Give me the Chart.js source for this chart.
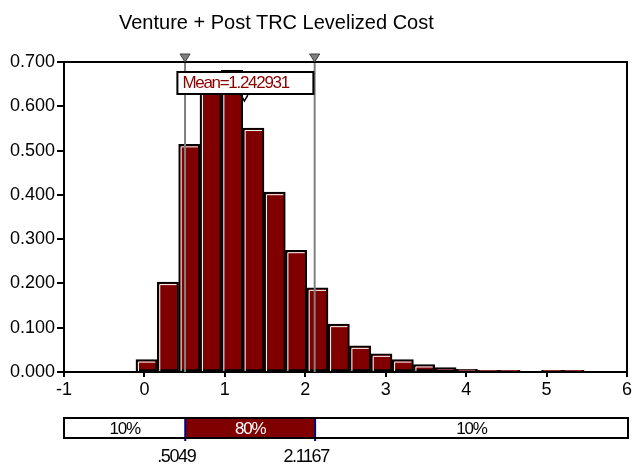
<!DOCTYPE html>
<html>
<head>
<meta charset="utf-8">
<script src="https://cdn.jsdelivr.net/npm/chart.js@4.4.0/dist/chart.umd.min.js"></script>
<style>
    html, body { margin: 0; padding: 0; background: #fff; }
    #wrap { position: relative; width: 634px; height: 466px; overflow: hidden; }
    #hist { position: absolute; left: 0; top: 0; }
    #band { position: absolute; left: 0; top: 402px; }
    #title {
        position: absolute; left: 119px; top: 12px;
        font: 20px "Liberation Sans", Arial, sans-serif; line-height: 20px;
        color: #000; white-space: nowrap;
    }
</style>
</head>
<body>
<div id="wrap">
    <canvas id="hist" width="634" height="402"></canvas>
    <canvas id="band" width="634" height="64"></canvas>
    <div id="title">Venture + Post TRC Levelized Cost</div>
</div>
<script>
// histogram bins (centre of each bin) and their relative frequency
const binCenters = [0.027, 0.292, 0.558, 0.823, 1.089, 1.354, 1.619, 1.885, 2.150, 2.416, 2.681,
                    2.946, 3.212, 3.477, 3.743, 4.008, 4.274, 4.539, 4.804, 5.070, 5.335];
const density = [0.028, 0.203, 0.514, 0.660, 0.681, 0.551, 0.406, 0.275, 0.190, 0.108, 0.059,
                 0.041, 0.028, 0.017, 0.010, 0.006, 0.004, 0.004, null, 0.004, 0.004];

// 5% / 95% delimiters and the mean
const percentiles = [0.5049, 2.1167];
const meanValue = 1.242931;

// axis range
const xRange = [-1, 6];
const yRange = [0, 0.7];

// probability band under the axis
const bandEdges = [-1, 0.5049, 2.1167, 6];
const bandLabels = ['10%', '80%', '10%'];

const MAROON = '#800000';
const FONT = '"Liberation Sans", Arial, sans-serif';

function fmtPct(v) {
    return v.toFixed(4).replace(/^0\./, '.');
}

const histDecor = {
    id: 'histDecor',
    afterDatasetsDraw(chart) {
        // white bevel line inside each bar
        const ctx = chart.ctx;
        const meta = chart.getDatasetMeta(0);
        ctx.save();
        ctx.strokeStyle = '#fff';
        ctx.lineWidth = 1;
        meta.data.forEach(bar => {
            const p = bar.getProps(['x', 'y', 'base', 'width']);
            if (p.y == null || isNaN(p.y) || p.base - p.y < 6) return;
            const left = p.x - p.width / 2 + 2;
            const right = p.x + p.width / 2 - 2;
            ctx.beginPath();
            ctx.moveTo(left + 0.5, p.base);
            ctx.lineTo(left + 0.5, p.y + 2.5);
            ctx.lineTo(right, p.y + 2.5);
            ctx.stroke();
        });
        ctx.restore();
    },
    afterDraw(chart) {
        const ctx = chart.ctx;
        const area = chart.chartArea;
        const xs = chart.scales.x;
        ctx.save();

        // percentile lines
        ctx.strokeStyle = '#808080';
        ctx.lineWidth = 2;
        percentiles.forEach(v => {
            const px = xs.getPixelForValue(v);
            ctx.beginPath();
            ctx.moveTo(px, area.top);
            ctx.lineTo(px, area.bottom);
            ctx.stroke();
        });

        // top and right frame
        ctx.strokeStyle = '#000';
        ctx.lineWidth = 2;
        ctx.beginPath();
        ctx.moveTo(area.left, area.top);
        ctx.lineTo(area.right, area.top);
        ctx.lineTo(area.right, area.bottom);
        ctx.stroke();

        // delimiter triangles
        ctx.fillStyle = '#808080';
        ctx.strokeStyle = '#404040';
        ctx.lineWidth = 1;
        percentiles.forEach(v => {
            const px = xs.getPixelForValue(v);
            ctx.beginPath();
            ctx.moveTo(px - 5, area.top - 8);
            ctx.lineTo(px + 5, area.top - 8);
            ctx.lineTo(px, area.top);
            ctx.closePath();
            ctx.fill();
            ctx.stroke();
        });

        // mean label box
        const mx = xs.getPixelForValue(meanValue);
        const boxTop = area.top + 10;
        ctx.fillStyle = '#fff';
        ctx.fillRect(mx - 67, boxTop, 136, 22);
        ctx.strokeStyle = '#000';
        ctx.lineWidth = 2;
        ctx.strokeRect(mx - 67, boxTop, 136, 22);
        ctx.fillStyle = '#8b0000';
        ctx.font = '17px ' + FONT;
        ctx.letterSpacing = '-1.3px';
        ctx.textAlign = 'left';
        ctx.textBaseline = 'middle';
        ctx.fillText('Mean=' + meanValue, mx - 62, boxTop + 11.5);

        // mean marker
        ctx.strokeStyle = '#000';
        ctx.lineWidth = 1.5;
        ctx.beginPath();
        ctx.moveTo(mx - 3.5, boxTop + 23);
        ctx.lineTo(mx, boxTop + 29);
        ctx.lineTo(mx + 3.5, boxTop + 23);
        ctx.stroke();
        ctx.restore();
    }
};

new Chart(document.getElementById('hist'), {
    type: 'bar',
    data: {
        datasets: [{
            data: binCenters.map((x, i) => ({ x: x, y: density[i] })),
            backgroundColor: MAROON,
            borderColor: '#000',
            borderWidth: 2,
            borderSkipped: false,
            barPercentage: 1,
            categoryPercentage: 1
        }]
    },
    options: {
        responsive: false,
        animation: false,
        layout: { padding: { top: 62, right: 6, left: 0, bottom: 0 } },
        plugins: {
            legend: { display: false },
            tooltip: { enabled: false },
            title: { display: false }
        },
        scales: {
            x: {
                type: 'linear',
                min: xRange[0],
                max: xRange[1],
                offset: false,
                ticks: {
                    stepSize: 1,
                    color: '#000',
                    font: { family: FONT, size: 18 },
                    padding: 2,
                    maxRotation: 0,
                    autoSkip: false
                },
                grid: { display: true, drawOnChartArea: false, drawTicks: true, tickLength: 5, color: '#000', lineWidth: 2, offset: false },
                border: { display: true, color: '#000', width: 2 },
                afterFit: s => { s.height = 30; }
            },
            y: {
                min: yRange[0],
                max: yRange[1],
                ticks: {
                    stepSize: 0.1,
                    color: '#000',
                    font: { family: FONT, size: 18 },
                    padding: 2,
                    callback: v => v.toFixed(3)
                },
                grid: { display: true, drawOnChartArea: false, drawTicks: true, tickLength: 7, color: '#000', lineWidth: 2 },
                border: { display: true, color: '#000', width: 2 },
                afterFit: s => { s.width = 64; }
            }
        }
    },
    plugins: [histDecor]
});

const bandDecor = {
    id: 'bandDecor',
    afterDatasetsDraw(chart) {
        const ctx = chart.ctx;
        const area = chart.chartArea;
        const xs = chart.scales.x;
        ctx.save();

        // blue delimiters
        ctx.strokeStyle = '#000080';
        ctx.lineWidth = 2;
        percentiles.forEach(v => {
            const px = xs.getPixelForValue(v);
            ctx.beginPath();
            ctx.moveTo(px, area.top);
            ctx.lineTo(px, area.bottom + 3);
            ctx.stroke();
        });

        // outline
        ctx.strokeStyle = '#000';
        ctx.lineWidth = 2;
        ctx.strokeRect(area.left, area.top, area.right - area.left, area.bottom - area.top);

        // band labels
        ctx.font = '17px ' + FONT;
        ctx.letterSpacing = '-1.2px';
        ctx.textAlign = 'center';
        ctx.textBaseline = 'middle';
        chart.data.datasets.forEach((ds, i) => {
            const bar = chart.getDatasetMeta(i).data[0];
            const p = bar.getProps(['x', 'y', 'base']);
            ctx.fillStyle = i === 1 ? '#fff' : '#000';
            ctx.fillText(bandLabels[i], (p.x + p.base) / 2, p.y + 1);
        });

        // delimiter values
        ctx.fillStyle = '#000';
        ctx.font = '18px ' + FONT;
        ctx.letterSpacing = '-1.4px';
        percentiles.forEach(v => {
            const px = xs.getPixelForValue(v);
            ctx.fillText(fmtPct(v), px - 9, area.bottom + 19);
        });
        ctx.restore();
    }
};

new Chart(document.getElementById('band'), {
    type: 'bar',
    data: {
        labels: [''],
        datasets: bandLabels.map((lab, i) => ({
            label: lab,
            data: [[bandEdges[i], bandEdges[i + 1]]],
            backgroundColor: i === 1 ? MAROON : '#fff',
            borderWidth: 0,
            grouped: false,
            barPercentage: 1,
            categoryPercentage: 1
        }))
    },
    options: {
        indexAxis: 'y',
        responsive: false,
        animation: false,
        layout: { padding: { left: 64, right: 6, top: 16, bottom: 28 } },
        plugins: { legend: { display: false }, tooltip: { enabled: false } },
        scales: {
            x: { type: 'linear', min: xRange[0], max: xRange[1], display: false },
            y: { display: false }
        }
    },
    plugins: [bandDecor]
});
</script>
</body>
</html>
